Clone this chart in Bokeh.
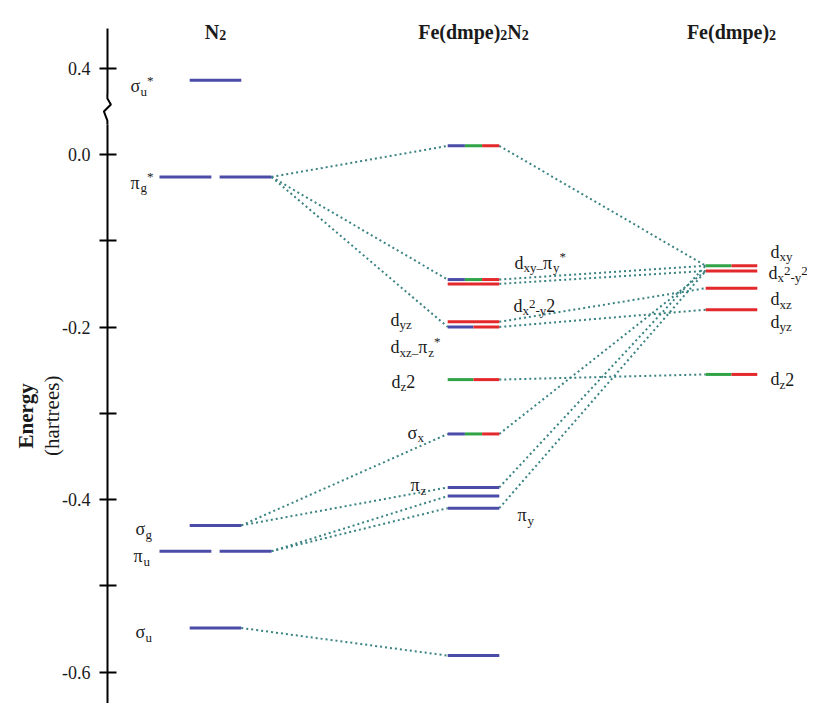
import math
from bokeh.plotting import figure
from bokeh.models import ColumnDataSource, Range1d, LinearAxis, FixedTicker
from bokeh.core.properties import value
from bokeh.embed import file_html
from bokeh.resources import INLINE

# ---------------- data ----------------
column_titles = [
    [("N", "m"), ("2", "s")],
    [("Fe(dmpe)", "m"), ("2", "s"), ("N", "m"), ("2", "s")],
    [("Fe(dmpe)", "m"), ("2", "s")],
]

# N2 orbital energies (hartree)
n2_energy = [0.386, -0.026, -0.430, -0.460, -0.549]
n2_degenerate = [False, True, False, True, False]
n2_labels = [
    [("σ", "m"), ("u", "s"), ("*", "p")],
    [("π", "m"), ("g", "s"), ("*", "p")],
    [("σ", "m"), ("g", "s")],
    [("π", "m"), ("u", "s")],
    [("σ", "m"), ("u", "s")],
]

# Fe(dmpe)2N2 orbital energies and character fractions (blue / green / rest red)
cx_energy = [0.010, -0.145, -0.150, -0.194, -0.200, -0.261, -0.324, -0.386, -0.396, -0.410, -0.581]
cx_blue = [1/3, 1/3, 0, 0, 0.5, 0, 1/3, 1, 1, 1, 1]
cx_green = [1/3, 1/3, 0, 0, 0, 0.5, 1/3, 0, 0, 0, 0]
cx_labels = {
    1: [("d", "m"), ("xy–", "s"), ("π", "m"), ("y", "s"), ("*", "p")],
    2: [("d", "m"), ("x", "s"), ("2", "r"), ("-y", "s"), ("2", "m")],
    3: [("d", "m"), ("yz", "s")],
    4: [("d", "m"), ("xz–", "s"), ("π", "m"), ("z", "s"), ("*", "p")],
    5: [("d", "m"), ("z", "s"), ("2", "m")],
    6: [("σ", "m"), ("x", "s")],
    7: [("π", "m"), ("z", "s")],
    9: [("π", "m"), ("y", "s")],
}

# Fe(dmpe)2 orbital energies and character fractions
fe_energy = [-0.129, -0.135, -0.155, -0.180, -0.255]
fe_blue = [0, 0, 0, 0, 0]
fe_green = [0.5, 0, 0, 0, 0.5]
fe_labels = [
    [("d", "m"), ("xy", "s")],
    [("d", "m"), ("x", "s"), ("2", "r"), ("-y", "s"), ("2", "r")],
    [("d", "m"), ("xz", "s")],
    [("d", "m"), ("yz", "s")],
    [("d", "m"), ("z", "s"), ("2", "m")],
]

# correlation lines (from level index, to level index)
n2_cx_links = [(1, 0), (1, 1), (1, 4), (2, 6), (2, 7), (3, 8), (3, 9), (4, 10)]
cx_fe_links = [(0, 0), (1, 0), (2, 1), (3, 2), (4, 3), (5, 4), (6, 1), (7, 0), (9, 1)]

tick_energy = [-0.6, -0.5, -0.4, -0.3, -0.2, -0.1, 0.0, 0.4]
tick_text = ["-0.6", "", "-0.4", "", "-0.2", "", "0.0", "0.4"]

axis_title = ["Energy", "(hartrees)"]

# ---------------- style / layout ----------------
BLUE, GREEN, RED = "#4b4ca8", "#2fa346", "#e3292b"
LINK = "#3b8383"
TXT = "#1a1a1a"
FONT = "Liberation Serif"

BREAK_SHIFT = 0.3          # axis break: energies above the break are drawn 0.3 lower


def ypos(e):
    return e - BREAK_SHIFT if e > 0.2 else e


HW = 0.1                   # half width of a level
PAIR_OUT, PAIR_IN = 0.217, 0.016
AXIS_X = -0.419
Y_TOP, Y_BOT = 0.17855, -0.63652
X_START = -0.8333
X_END = X_START + 807 / 258.0

p = figure(width=807, height=703, x_range=Range1d(X_START, X_END),
           y_range=Range1d(Y_BOT, Y_TOP), output_backend="svg",
           toolbar_location=None, min_border=0,
           x_axis_location=None, y_axis_location=None)
p.outline_line_color = None
p.grid.visible = False
p.background_fill_color = "white"
p.border_fill_color = "white"

# ---- y axis ----
tick_pos = [ypos(t) for t in tick_energy]
yaxis = LinearAxis(fixed_location=AXIS_X,
                   ticker=FixedTicker(ticks=tick_pos, minor_ticks=[]),
                   major_label_overrides={tp: tt for tp, tt in zip(tick_pos, tick_text)},
                   bounds=(Y_BOT, 0.146))
yaxis.axis_line_width = 2
yaxis.axis_line_color = "black"
yaxis.major_tick_line_width = 2
yaxis.major_tick_in = 9
yaxis.major_tick_out = 8
yaxis.minor_tick_line_color = None
yaxis.major_label_text_font = FONT
yaxis.major_label_text_font_size = "18px"
yaxis.major_label_text_color = TXT
yaxis.major_label_standoff = 9
p.add_layout(yaxis, "left")

# axis break mark
p.segment(x0=[AXIS_X], y0=[0.070], x1=[AXIS_X], y1=[0.035], line_color="white",
          line_width=5, level="overlay")
px = 1.0 / 258.0
p.line(x=[AXIS_X, AXIS_X, AXIS_X + 3.5 * px, AXIS_X - 3.5 * px, AXIS_X, AXIS_X],
       y=[0.070, 0.0649, 0.058, 0.0499, 0.0394, 0.035],
       line_color="black", line_width=2, level="overlay")

# ---- levels ----
seg = dict(x0=[], x1=[], y=[], c=[])


def add_level(xc, e, blue, green, x_lo=None, x_hi=None):
    lo = xc - HW if x_lo is None else x_lo
    hi = xc + HW if x_hi is None else x_hi
    w = hi - lo
    red = 1 - blue - green
    cur = lo
    for frac, col in ((blue, BLUE), (green, GREEN), (red, RED)):
        if frac > 1e-6:
            seg["x0"].append(cur); seg["x1"].append(cur + frac * w)
            seg["y"].append(ypos(e)); seg["c"].append(col)
            cur += frac * w


n2_right = []
for e, deg in zip(n2_energy, n2_degenerate):
    if deg:
        add_level(0, e, 1, 0, -PAIR_OUT, -PAIR_IN)
        add_level(0, e, 1, 0, PAIR_IN, PAIR_OUT)
        n2_right.append(PAIR_OUT)
    else:
        add_level(0, e, 1, 0)
        n2_right.append(HW)
for e, b, g in zip(cx_energy, cx_blue, cx_green):
    add_level(1, e, b, g)
for e, b, g in zip(fe_energy, fe_blue, fe_green):
    add_level(2, e, b, g)

# ---- correlation lines ----
lk = dict(x0=[], y0=[], x1=[], y1=[])
for a, b in n2_cx_links:
    lk["x0"].append(n2_right[a]); lk["y0"].append(ypos(n2_energy[a]))
    lk["x1"].append(1 - HW); lk["y1"].append(ypos(cx_energy[b]))
for a, b in cx_fe_links:
    lk["x0"].append(1 + HW); lk["y0"].append(ypos(cx_energy[a]))
    lk["x1"].append(2 - HW); lk["y1"].append(ypos(fe_energy[b]))
p.segment(x0="x0", y0="y0", x1="x1", y1="y1", source=ColumnDataSource(lk),
          line_color=LINK, line_width=2, line_dash="2 3")

p.segment(x0="x0", y0="y", x1="x1", y1="y", line_color="c", line_width=3,
          source=ColumnDataSource(seg))

# ---- text ----
W_REG = {'d': .5, 'x': .5, 'y': .5, 'z': .444, 'g': .5, 'u': .5, '2': .5, '-': .333,
         '–': .5, '*': .5, 'σ': .55, 'π': .55}
W_BOLD = {'N': .722, 'F': .611, 'e': .444, '(': .333, 'd': .556, 'm': .833, 'p': .556,
          ')': .333, '2': .5}
KIND = {"m": (18, 0), "s": (13, 5), "p": (13, -6), "r": (13, -2)}
TKIND = {"m": (20, 0), "s": (14, 3)}

R = dict(x=[], y=[], xo=[], yo=[], text=[], size=[], style=[])


def runs(parts, x, y, dx, dy, bold=False, center=False):
    kinds = TKIND if bold else KIND
    tbl = W_BOLD if bold else W_REG
    widths = [sum(tbl.get(ch, .5) for ch in t) * kinds[k][0] for t, k in parts]
    cur = dx - (sum(widths) / 2 if center else 0)
    for (t, k), w in zip(parts, widths):
        size, off = kinds[k]
        R["x"].append(x); R["y"].append(y)
        R["xo"].append(cur); R["yo"].append(dy + off)
        R["text"].append(t); R["size"].append(f"{size}px")
        R["style"].append("bold" if bold else "normal")
        cur += w


TITLE_Y = 0.1426
for i, parts in enumerate(column_titles):
    runs(parts, i, TITLE_Y, 0, 0, bold=True, center=True)

n2_place = [(-85, 6), (-85, 6), (-80, 4), (-82, 5), (-80, 4)]
for parts, e, (dx, dy) in zip(n2_labels, n2_energy, n2_place):
    runs(parts, 0, ypos(e), dx, dy)

cx_place = {1: (41, -17), 2: (40, 22), 3: (-83, -2), 4: (-83, 20), 5: (-82, 2),
            6: (-66, -1), 7: (-63, -2), 9: (44, 7)}
for i, parts in cx_labels.items():
    dx, dy = cx_place[i]
    runs(parts, 1, ypos(cx_energy[i]), dx, dy)

fe_place = [(39, -14), (37, 2), (39, 11), (39, 12), (39, 5)]
for parts, e, (dx, dy) in zip(fe_labels, fe_energy, fe_place):
    runs(parts, 2, ypos(e), dx, dy)

p.text(x="x", y="y", text="text", x_offset="xo", y_offset="yo",
       text_font=value(FONT), text_font_size=dict(field="size"),
       text_font_style=dict(field="style"), text_color=TXT,
       text_align="left", text_baseline="alphabetic", source=ColumnDataSource(R))

# rotated axis title
AT = dict(x=[X_START, X_START], y=[-0.303, -0.303], text=axis_title,
          xo=[25, 51], style=["bold", "normal"])
p.text(x="x", y="y", text="text", x_offset="xo", angle=math.pi / 2,
       text_font=value(FONT), text_font_size="21px",
       text_font_style=dict(field="style"), text_color=TXT,
       text_align="center", text_baseline="alphabetic", source=ColumnDataSource(AT))

open("out.html", "w").write(file_html(p, INLINE))
